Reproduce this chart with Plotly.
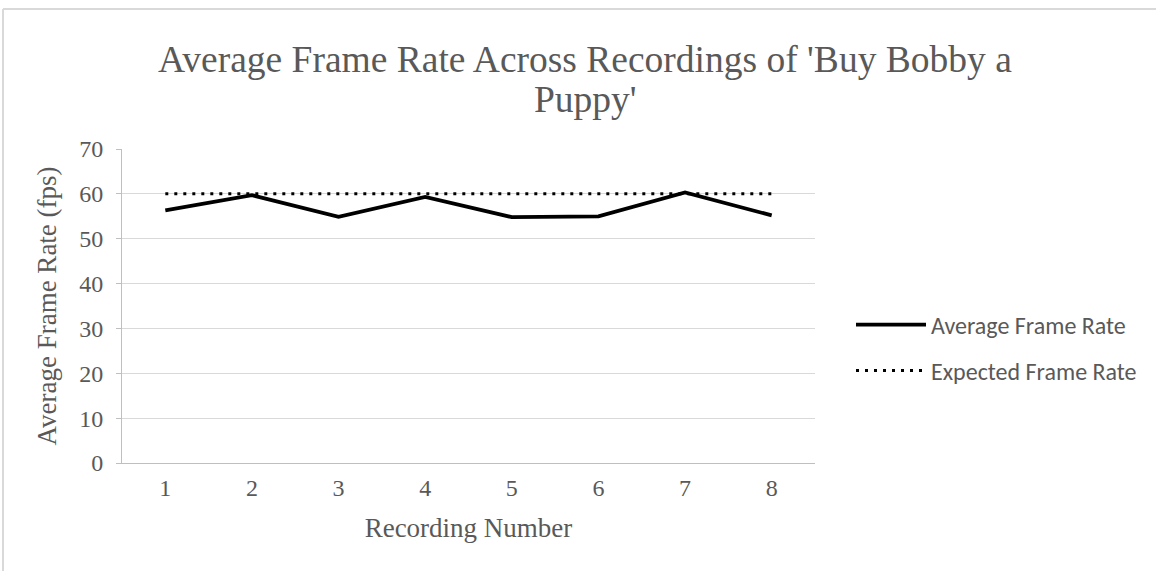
import plotly.graph_objects as go

recordings = ["1", "2", "3", "4", "5", "6", "7", "8"]
average_fps = [56.3, 59.7, 54.9, 59.3, 54.8, 55.0, 60.3, 55.2]
expected_fps = [60, 60, 60, 60, 60, 60, 60, 60]
y_ticks = [0, 10, 20, 30, 40, 50, 60, 70]
title_lines = ["Average Frame Rate Across Recordings of 'Buy Bobby a", "Puppy'"]

W, H = 1156, 571
L, R, T, B = 122, 1156 - 815, 149, 571 - 463
pw, ph = W - L - R, H - T - B

serif = "Liberation Serif, Times New Roman, serif"
sans = "Carlito, Lato, Liberation Sans, sans-serif"
grey = "#595959"


def px_x(px):
    return (px - L) / pw


def px_y(py):
    return (H - B - py) / ph


fig = go.Figure()
fig.add_trace(go.Scatter(
    x=recordings, y=average_fps, mode="lines", name="Average Frame Rate",
    line=dict(color="black", width=3.8), legend="legend",
))
fig.add_trace(go.Scatter(
    x=recordings, y=expected_fps, mode="lines", name="Expected Frame Rate",
    line=dict(color="black", width=3, dash="3px,6px"), legend="legend2",
))

annotations = []
for text, cy in zip(title_lines, [60, 100]):
    annotations.append(dict(
        text=text, xref="paper", yref="paper", x=px_x(585), y=px_y(cy),
        xanchor="center", yanchor="middle", showarrow=False,
        font=dict(family=serif, size=37.5, color=grey),
    ))

fig.update_layout(
    width=W, height=H,
    margin=dict(l=L, r=R, t=T, b=B, autoexpand=False),
    paper_bgcolor="white", plot_bgcolor="white",
    showlegend=True,
    annotations=annotations,
    xaxis=dict(
        type="category", range=[-0.5, 7.5],
        showgrid=False, showline=True, linecolor="#bfbfbf", linewidth=1,
        ticks="", ticklabelstandoff=3, tickfont=dict(family=serif, size=24, color=grey),
        title=dict(text="Recording Number", font=dict(family=serif, size=27, color=grey), standoff=18),
        zeroline=False, fixedrange=True,
    ),
    yaxis=dict(
        range=[0, 70], tickvals=y_ticks, showgrid=True, gridcolor="#d9d9d9", gridwidth=1,
        showline=True, linecolor="#bfbfbf", linewidth=1,
        ticks="outside", ticklen=5, tickcolor="#bfbfbf", ticklabelstandoff=8,
        tickfont=dict(family=serif, size=24, color=grey),
        title=dict(text="Average Frame Rate (fps)", font=dict(family=serif, size=27, color=grey), standoff=14),
        zeroline=False, fixedrange=True,
    ),
    legend=dict(
        x=px_x(851), y=px_y(325), xanchor="left", yanchor="middle", itemwidth=70,
        font=dict(family=sans, size=24, color=grey), bgcolor="rgba(0,0,0,0)",
    ),
    legend2=dict(
        x=px_x(851), y=px_y(371), xanchor="left", yanchor="middle", itemwidth=70,
        font=dict(family=sans, size=24, color=grey), bgcolor="rgba(0,0,0,0)",
    ),
    shapes=[
        dict(type="line", xref="paper", yref="paper", x0=px_x(3), x1=px_x(1160), y0=px_y(9), y1=px_y(9),
             line=dict(color="#d9d9d9", width=2)),
        dict(type="line", xref="paper", yref="paper", x0=px_x(3), x1=px_x(3), y0=px_y(9), y1=px_y(575),
             line=dict(color="#d9d9d9", width=2)),
    ],
)

fig.write_html(
    "out.html",
    config={"displayModeBar": False},
    post_script="document.body.style.margin='0';document.body.style.overflow='hidden';",
)
